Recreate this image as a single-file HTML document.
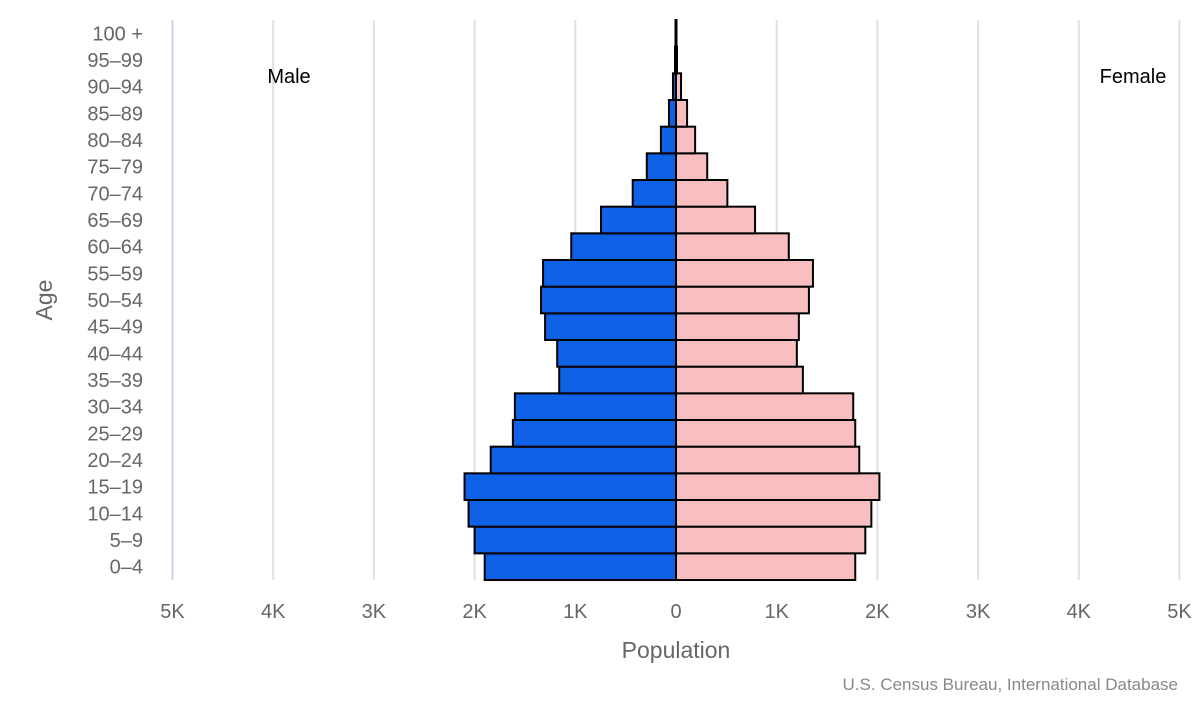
<!DOCTYPE html>
<html><head><meta charset="utf-8"><style>
body{margin:0;background:#fff;width:1200px;height:700px;overflow:hidden}
text{font-family:"Liberation Sans","DejaVu Sans",sans-serif}
</style></head><body>
<svg width="1200" height="700">
<g id="grid"></g>
<g id="bars"></g>
<g id="ylabels"></g>
<g id="xlabels"></g>
<text x="289" y="83" font-size="20" text-anchor="middle" fill="#000">Male</text>
<text x="1133" y="83" font-size="20" text-anchor="middle" fill="#000">Female</text>
<text x="676" y="658" font-size="23" text-anchor="middle" fill="#666">Population</text>
<text x="52" y="300" font-size="23" text-anchor="middle" fill="#666" transform="rotate(-90 52 300)">Age</text>
<text x="1178" y="690" font-size="17" text-anchor="end" fill="#888">U.S. Census Bureau, International Database</text>
</svg>
<script>
const ages=["0-4","5-9","10-14","15-19","20-24","25-29","30-34","35-39","40-44","45-49","50-54","55-59","60-64","65-69","70-74","75-79","80-84","85-89","90-94","95-99","100 +"];
const male=[1.90,2.00,2.06,2.10,1.84,1.62,1.60,1.16,1.18,1.30,1.34,1.32,1.04,0.745,0.43,0.29,0.15,0.07,0.03,0.01,0.005];
const female=[1.78,1.88,1.94,2.02,1.82,1.78,1.76,1.26,1.20,1.22,1.32,1.36,1.12,0.785,0.51,0.31,0.19,0.11,0.05,0.01,0.005];
const ticks=[-5,-4,-3,-2,-1,0,1,2,3,4,5];
const tickLabels=["5K","4K","3K","2K","1K","0","1K","2K","3K","4K","5K"];
const NS="http://www.w3.org/2000/svg";
const cx=676,kpx=100.7,plotTop=20,plotBottom=580;
const band=(plotBottom-plotTop)/ages.length;
const x=v=>cx+v*kpx;
const yTop=i=>plotBottom-(i+1)*band;
function mk(t,a,p){const e=document.createElementNS(NS,t);for(const k in a)e.setAttribute(k,a[k]);p.appendChild(e);return e;}
const grid=document.getElementById('grid'),bars=document.getElementById('bars'),yl=document.getElementById('ylabels'),xl=document.getElementById('xlabels');
ticks.forEach((t,i)=>{
 const l=mk('line',{x1:x(t),x2:x(t),y1:plotTop,y2:plotBottom,stroke:(i==0)?'#ccd6eb':'#e0e0e0','stroke-width':2},grid);
 
 
 const tx=mk('text',{x:x(t),y:618,'font-size':20,'text-anchor':'middle',fill:'#666'},xl);
 tx.textContent=tickLabels[i];
 
 
});
ages.forEach((a,i)=>{
 const m=mk('rect',{x:x(-male[i]),y:yTop(i),width:male[i]*kpx,height:band,fill:'#0f62e6',stroke:'#000','stroke-width':2},bars);
 
 
 const f=mk('rect',{x:cx,y:yTop(i),width:female[i]*kpx,height:band,fill:'#f9bfc0',stroke:'#000','stroke-width':2},bars);
 
 
 const t=mk('text',{x:143,y:yTop(i)+band/2+7,'font-size':20,'text-anchor':'end',fill:'#666'},yl);
 t.textContent=a.replace('-','\u2013');
 
 
});
</script>
</body></html>
